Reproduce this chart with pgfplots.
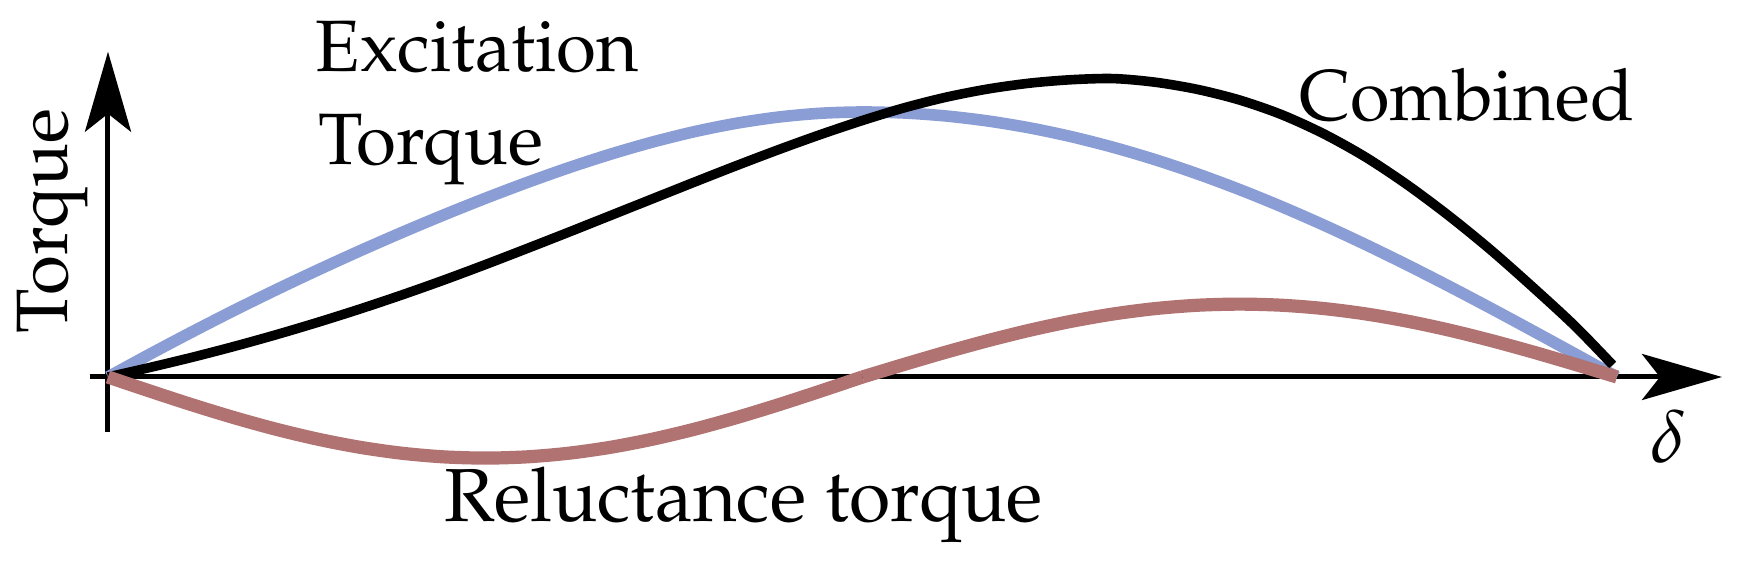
\documentclass[border=0pt]{standalone}
\usepackage[T1]{fontenc}
\usepackage{mathpazo}
\usepackage{pgfplots}
\pgfplotsset{compat=1.18}
\usetikzlibrary{arrows.meta}
\definecolor{exccol}{RGB}{138,157,213}
\definecolor{relcol}{RGB}{176,115,114}
\begin{document}
\begin{tikzpicture}
\begin{axis}[
  scale only axis,
  width=408.0pt, height=95.07pt,
  xmin=-2.147, xmax=192.53,
  ymin=-0.2075, ymax=1.2275,
  axis lines=middle,
  axis line style={line width=1.25pt, -{Stealth[length=20pt,width=11.5pt,inset=4.5pt]}},
  xtick=\empty, ytick=\empty,
  clip=false,
]
% Excitation torque
\addplot[exccol, line width=2.9pt, smooth] coordinates {
(0,0) (5,0.0862) (10,0.1697) (15,0.2506) (20,0.3284) (25,0.4032) (30,0.4753)
(35,0.5445) (40,0.6108) (45,0.6741) (50,0.7340) (55,0.7901) (60,0.8413)
(65,0.8869) (70,0.9261) (75,0.9577) (80,0.9809) (85,0.9952) (90,1.0)
(95,0.9962) (100,0.9848) (105,0.9659) (110,0.9397) (115,0.9063) (120,0.8660)
(125,0.8192) (130,0.7660) (135,0.7071) (140,0.6428) (145,0.5736) (150,0.5)
(155,0.4226) (160,0.3420) (165,0.2588) (170,0.1736) (175,0.0872) (180,0)
};
% Combined
\addplot[black, line width=2.4pt, smooth] coordinates {
(0,0) (5,0.036) (10,0.074) (15,0.115) (20,0.159) (25,0.206) (30,0.256)
(35,0.309) (40,0.365) (45,0.424) (50,0.485) (55,0.547) (60,0.610)
(65,0.673) (70,0.736) (75,0.798) (80,0.858) (85,0.915) (90,0.968)
(95,1.016) (100,1.056) (105,1.087) (110,1.109) (115,1.122) (120,1.126)
(125,1.112) (130,1.085) (135,1.045) (140,0.990) (145,0.918) (150,0.830)
(155,0.725) (160,0.607) (165,0.478) (170,0.338) (175,0.192) (179.5,0.045)
};
% Reluctance torque (two halves)
\addplot[relcol, line width=3.3pt, smooth] coordinates {
(0,0) (5,-0.0531) (10,-0.1047) (15,-0.153) (20,-0.1967) (25,-0.2344)
(30,-0.2650) (35,-0.2875) (40,-0.3013) (45,-0.306) (50,-0.3013)
(55,-0.2875) (60,-0.2650) (65,-0.2344) (70,-0.1967) (75,-0.153)
(80,-0.1047) (85,-0.0531) (90,0)
};
\addplot[relcol, line width=3.3pt, smooth] coordinates {
(90,0) (95,0.0478) (100,0.0941) (105,0.1375) (110,0.1768) (115,0.2107)
(120,0.2382) (125,0.2584) (130,0.2708) (135,0.275) (140,0.2708)
(145,0.2584) (150,0.2382) (155,0.2107) (160,0.1768) (165,0.1375)
(170,0.0941) (175,0.0478) (180,0)
};
\node[anchor=base west, inner sep=0pt, font=\fontsize{18.2}{22}\selectfont] at (axis cs:24.69,1.152) {Excitation};
\node[anchor=base west, inner sep=0pt, font=\fontsize{18.2}{22}\selectfont] at (axis cs:25.0,0.800) {Torque};
\node[anchor=base west, inner sep=0pt, font=\fontsize{18}{22}\selectfont] at (axis cs:142.0,0.967) {Combined};
\node[anchor=base west, inner sep=0pt, font=\fontsize{18.8}{22}\selectfont] at (axis cs:40.0,-0.547) {Reluctance torque};
\node[anchor=base west, inner sep=0pt, rotate=90, font=\fontsize{18.2}{22}\selectfont] at (axis cs:-4.89,0.162) {Torque};
\node[anchor=base, inner sep=0pt, font=\fontsize{18.5}{22}\selectfont] at (axis cs:186.1,-0.3245) {$\delta$};
\coordinate (bl) at (axis cs:-12.883,-0.6906);
\coordinate (tr) at (axis cs:194.80,1.4226);
\end{axis}
\pgfresetboundingbox
\path[use as bounding box] (bl) rectangle (tr);
\end{tikzpicture}
\end{document}
